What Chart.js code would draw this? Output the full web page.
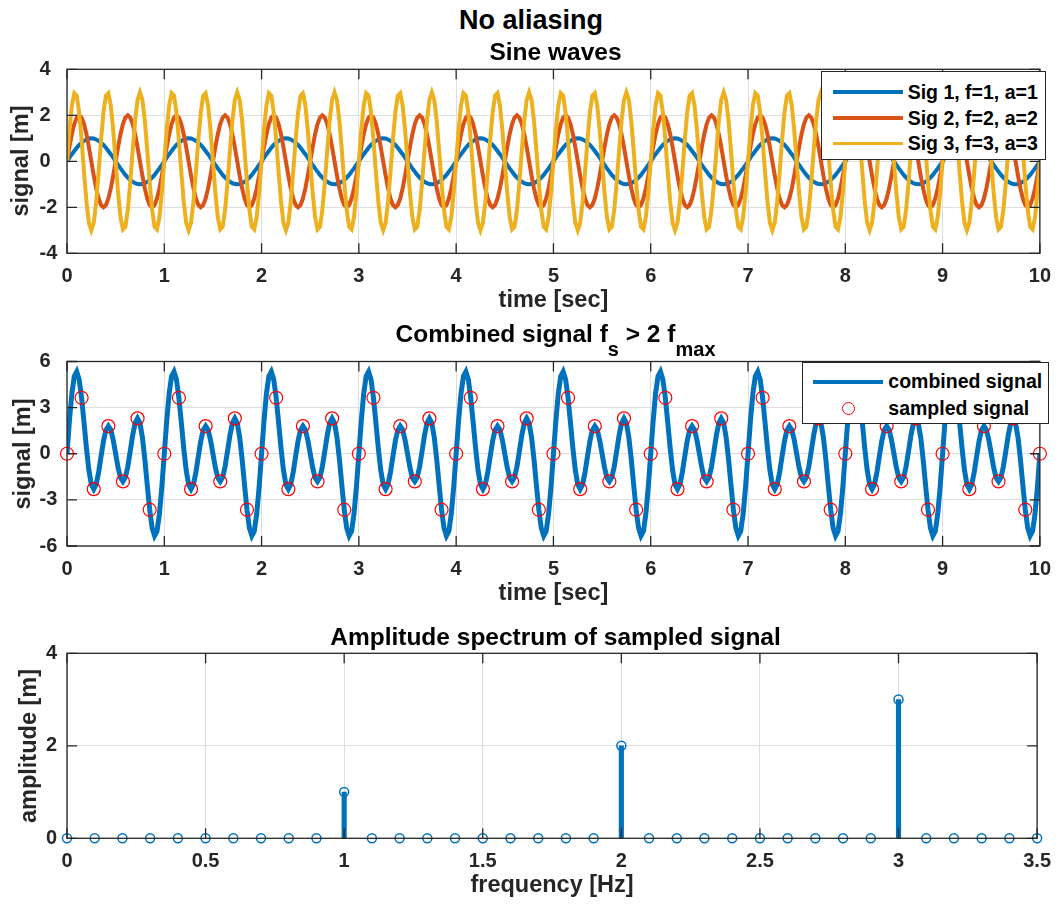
<!DOCTYPE html>
<html>
<head>
<meta charset="utf-8">
<script src="https://cdn.jsdelivr.net/npm/chart.js@4.4.0/dist/chart.umd.min.js"></script>
<style>
  body { margin: 0; background: #fff; }
  #fig { position: relative; width: 1062px; height: 906px; overflow: hidden;
         font-family: "Liberation Sans", Arial, sans-serif; font-weight: bold; color: #000; }
  canvas { position: absolute; left: 0; }
  .txt { position: absolute; white-space: nowrap; text-align: center; }
  .sub { position: relative; top: 14px; font-size: 20px; }
  .ylab { position: absolute; white-space: nowrap; font-size: 23.5px; line-height: 23.5px; color: #262626;
          transform: translate(-50%, -50%) rotate(-90deg); }
  .legend { position: absolute; background: #fff; border: 1px solid #262626; box-sizing: border-box;
            font-size: 19.5px; line-height: 19.5px; color: #000; }
  .legend .lt { position: absolute; white-space: nowrap; }
  .legend .sw { position: absolute; }
  .legend .mk { position: absolute; box-sizing: border-box; border-radius: 50%; border: 1.2px solid #ff0000; }
</style>
</head>
<body>
<div id="fig">
  <canvas id="c1"></canvas>
  <canvas id="c2"></canvas>
  <canvas id="c3"></canvas>

  <div class="txt" style="left:0;width:1062px;top:7px;font-size:27px;line-height:27px;">No aliasing</div>
  <div class="txt" style="left:67px;width:977px;top:40px;font-size:24.5px;line-height:24.5px;">Sine waves</div>
  <div class="txt" style="left:67px;width:977px;top:321.7px;font-size:24.5px;line-height:24.5px;">Combined signal f<span class="sub">s</span> &gt; 2 f<span class="sub">max</span></div>
  <div class="txt" style="left:67px;width:977px;top:625px;font-size:24.5px;line-height:24.5px;">Amplitude spectrum of sampled signal</div>

  <div class="ylab" style="left:21px;top:161.3px;">signal [m]</div>
  <div class="ylab" style="left:22.5px;top:453.7px;">signal [m]</div>
  <div class="ylab" style="left:29px;top:745.8px;">amplitude [m]</div>

  <div class="legend" style="left:821px;top:71px;width:225px;height:88.5px;">
    <div class="sw" style="left:10.7px;width:70px;top:18.2px;height:3.5px;background:#0072BD;"></div>
    <div class="lt" style="left:85.7px;top:10.5px;">Sig 1, f=1, a=1</div>
    <div class="sw" style="left:10.7px;width:70px;top:44.2px;height:3.5px;background:#D95319;"></div>
    <div class="lt" style="left:85.7px;top:36.5px;">Sig 2, f=2, a=2</div>
    <div class="sw" style="left:10.7px;width:70px;top:69.8px;height:3.5px;background:#EDB120;"></div>
    <div class="lt" style="left:85.7px;top:62px;">Sig 3, f=3, a=3</div>
  </div>

  <div class="legend" style="left:802px;top:362px;width:247px;height:61.5px;">
    <div class="sw" style="left:9.7px;width:70px;top:16.5px;height:4.5px;background:#0072BD;"></div>
    <div class="lt" style="left:85.3px;top:9.2px;">combined signal</div>
    <div class="mk" style="left:38.5px;top:39.2px;width:13px;height:13px;"></div>
    <div class="lt" style="left:85.3px;top:36.2px;">sampled signal</div>
  </div>
</div>

<script>
// time axis of the "continuous" signals [sec]
const time = [
  0,0.025,0.05,0.075,0.1,0.125,0.15,0.175,0.2,0.225,0.25,0.275,0.3,0.325,0.35,0.375,0.4,0.425,0.45,0.475,0.5,0.525,0.55,0.575,0.6,0.625,0.65,0.675,0.7,0.725,0.75,0.775,0.8,0.825,0.85,0.875,0.9,0.925,0.95,0.975,
  1,1.025,1.05,1.075,1.1,1.125,1.15,1.175,1.2,1.225,1.25,1.275,1.3,1.325,1.35,1.375,1.4,1.425,1.45,1.475,1.5,1.525,1.55,1.575,1.6,1.625,1.65,1.675,1.7,1.725,1.75,1.775,1.8,1.825,1.85,1.875,1.9,1.925,1.95,1.975,
  2,2.025,2.05,2.075,2.1,2.125,2.15,2.175,2.2,2.225,2.25,2.275,2.3,2.325,2.35,2.375,2.4,2.425,2.45,2.475,2.5,2.525,2.55,2.575,2.6,2.625,2.65,2.675,2.7,2.725,2.75,2.775,2.8,2.825,2.85,2.875,2.9,2.925,2.95,2.975,
  3,3.025,3.05,3.075,3.1,3.125,3.15,3.175,3.2,3.225,3.25,3.275,3.3,3.325,3.35,3.375,3.4,3.425,3.45,3.475,3.5,3.525,3.55,3.575,3.6,3.625,3.65,3.675,3.7,3.725,3.75,3.775,3.8,3.825,3.85,3.875,3.9,3.925,3.95,3.975,
  4,4.025,4.05,4.075,4.1,4.125,4.15,4.175,4.2,4.225,4.25,4.275,4.3,4.325,4.35,4.375,4.4,4.425,4.45,4.475,4.5,4.525,4.55,4.575,4.6,4.625,4.65,4.675,4.7,4.725,4.75,4.775,4.8,4.825,4.85,4.875,4.9,4.925,4.95,4.975,
  5,5.025,5.05,5.075,5.1,5.125,5.15,5.175,5.2,5.225,5.25,5.275,5.3,5.325,5.35,5.375,5.4,5.425,5.45,5.475,5.5,5.525,5.55,5.575,5.6,5.625,5.65,5.675,5.7,5.725,5.75,5.775,5.8,5.825,5.85,5.875,5.9,5.925,5.95,5.975,
  6,6.025,6.05,6.075,6.1,6.125,6.15,6.175,6.2,6.225,6.25,6.275,6.3,6.325,6.35,6.375,6.4,6.425,6.45,6.475,6.5,6.525,6.55,6.575,6.6,6.625,6.65,6.675,6.7,6.725,6.75,6.775,6.8,6.825,6.85,6.875,6.9,6.925,6.95,6.975,
  7,7.025,7.05,7.075,7.1,7.125,7.15,7.175,7.2,7.225,7.25,7.275,7.3,7.325,7.35,7.375,7.4,7.425,7.45,7.475,7.5,7.525,7.55,7.575,7.6,7.625,7.65,7.675,7.7,7.725,7.75,7.775,7.8,7.825,7.85,7.875,7.9,7.925,7.95,7.975,
  8,8.025,8.05,8.075,8.1,8.125,8.15,8.175,8.2,8.225,8.25,8.275,8.3,8.325,8.35,8.375,8.4,8.425,8.45,8.475,8.5,8.525,8.55,8.575,8.6,8.625,8.65,8.675,8.7,8.725,8.75,8.775,8.8,8.825,8.85,8.875,8.9,8.925,8.95,8.975,
  9,9.025,9.05,9.075,9.1,9.125,9.15,9.175,9.2,9.225,9.25,9.275,9.3,9.325,9.35,9.375,9.4,9.425,9.45,9.475,9.5,9.525,9.55,9.575,9.6,9.625,9.65,9.675,9.7,9.725,9.75,9.775,9.8,9.825,9.85,9.875,9.9,9.925,9.95,9.975,
  10
];

// Sig 1, f=1, a=1
const sig1 = [
  0,0.16,0.31,0.45,0.59,0.71,0.81,0.89,0.95,0.99,1,0.99,0.95,0.89,0.81,0.71,0.59,0.45,0.31,0.16,0,-0.16,-0.31,-0.45,-0.59,-0.71,-0.81,-0.89,-0.95,-0.99,-1,-0.99,-0.95,-0.89,-0.81,-0.71,-0.59,-0.45,-0.31,-0.16,
  0,0.16,0.31,0.45,0.59,0.71,0.81,0.89,0.95,0.99,1,0.99,0.95,0.89,0.81,0.71,0.59,0.45,0.31,0.16,0,-0.16,-0.31,-0.45,-0.59,-0.71,-0.81,-0.89,-0.95,-0.99,-1,-0.99,-0.95,-0.89,-0.81,-0.71,-0.59,-0.45,-0.31,-0.16,
  0,0.16,0.31,0.45,0.59,0.71,0.81,0.89,0.95,0.99,1,0.99,0.95,0.89,0.81,0.71,0.59,0.45,0.31,0.16,0,-0.16,-0.31,-0.45,-0.59,-0.71,-0.81,-0.89,-0.95,-0.99,-1,-0.99,-0.95,-0.89,-0.81,-0.71,-0.59,-0.45,-0.31,-0.16,
  0,0.16,0.31,0.45,0.59,0.71,0.81,0.89,0.95,0.99,1,0.99,0.95,0.89,0.81,0.71,0.59,0.45,0.31,0.16,0,-0.16,-0.31,-0.45,-0.59,-0.71,-0.81,-0.89,-0.95,-0.99,-1,-0.99,-0.95,-0.89,-0.81,-0.71,-0.59,-0.45,-0.31,-0.16,
  0,0.16,0.31,0.45,0.59,0.71,0.81,0.89,0.95,0.99,1,0.99,0.95,0.89,0.81,0.71,0.59,0.45,0.31,0.16,0,-0.16,-0.31,-0.45,-0.59,-0.71,-0.81,-0.89,-0.95,-0.99,-1,-0.99,-0.95,-0.89,-0.81,-0.71,-0.59,-0.45,-0.31,-0.16,
  0,0.16,0.31,0.45,0.59,0.71,0.81,0.89,0.95,0.99,1,0.99,0.95,0.89,0.81,0.71,0.59,0.45,0.31,0.16,0,-0.16,-0.31,-0.45,-0.59,-0.71,-0.81,-0.89,-0.95,-0.99,-1,-0.99,-0.95,-0.89,-0.81,-0.71,-0.59,-0.45,-0.31,-0.16,
  0,0.16,0.31,0.45,0.59,0.71,0.81,0.89,0.95,0.99,1,0.99,0.95,0.89,0.81,0.71,0.59,0.45,0.31,0.16,0,-0.16,-0.31,-0.45,-0.59,-0.71,-0.81,-0.89,-0.95,-0.99,-1,-0.99,-0.95,-0.89,-0.81,-0.71,-0.59,-0.45,-0.31,-0.16,
  0,0.16,0.31,0.45,0.59,0.71,0.81,0.89,0.95,0.99,1,0.99,0.95,0.89,0.81,0.71,0.59,0.45,0.31,0.16,0,-0.16,-0.31,-0.45,-0.59,-0.71,-0.81,-0.89,-0.95,-0.99,-1,-0.99,-0.95,-0.89,-0.81,-0.71,-0.59,-0.45,-0.31,-0.16,
  0,0.16,0.31,0.45,0.59,0.71,0.81,0.89,0.95,0.99,1,0.99,0.95,0.89,0.81,0.71,0.59,0.45,0.31,0.16,0,-0.16,-0.31,-0.45,-0.59,-0.71,-0.81,-0.89,-0.95,-0.99,-1,-0.99,-0.95,-0.89,-0.81,-0.71,-0.59,-0.45,-0.31,-0.16,
  0,0.16,0.31,0.45,0.59,0.71,0.81,0.89,0.95,0.99,1,0.99,0.95,0.89,0.81,0.71,0.59,0.45,0.31,0.16,0,-0.16,-0.31,-0.45,-0.59,-0.71,-0.81,-0.89,-0.95,-0.99,-1,-0.99,-0.95,-0.89,-0.81,-0.71,-0.59,-0.45,-0.31,-0.16,
  0
];

// Sig 2, f=2, a=2
const sig2 = [
  0,0.62,1.18,1.62,1.9,2,1.9,1.62,1.18,0.62,0,-0.62,-1.18,-1.62,-1.9,-2,-1.9,-1.62,-1.18,-0.62,0,0.62,1.18,1.62,1.9,2,1.9,1.62,1.18,0.62,0,-0.62,-1.18,-1.62,-1.9,-2,-1.9,-1.62,-1.18,-0.62,
  0,0.62,1.18,1.62,1.9,2,1.9,1.62,1.18,0.62,0,-0.62,-1.18,-1.62,-1.9,-2,-1.9,-1.62,-1.18,-0.62,0,0.62,1.18,1.62,1.9,2,1.9,1.62,1.18,0.62,0,-0.62,-1.18,-1.62,-1.9,-2,-1.9,-1.62,-1.18,-0.62,
  0,0.62,1.18,1.62,1.9,2,1.9,1.62,1.18,0.62,0,-0.62,-1.18,-1.62,-1.9,-2,-1.9,-1.62,-1.18,-0.62,0,0.62,1.18,1.62,1.9,2,1.9,1.62,1.18,0.62,0,-0.62,-1.18,-1.62,-1.9,-2,-1.9,-1.62,-1.18,-0.62,
  0,0.62,1.18,1.62,1.9,2,1.9,1.62,1.18,0.62,0,-0.62,-1.18,-1.62,-1.9,-2,-1.9,-1.62,-1.18,-0.62,0,0.62,1.18,1.62,1.9,2,1.9,1.62,1.18,0.62,0,-0.62,-1.18,-1.62,-1.9,-2,-1.9,-1.62,-1.18,-0.62,
  0,0.62,1.18,1.62,1.9,2,1.9,1.62,1.18,0.62,0,-0.62,-1.18,-1.62,-1.9,-2,-1.9,-1.62,-1.18,-0.62,0,0.62,1.18,1.62,1.9,2,1.9,1.62,1.18,0.62,0,-0.62,-1.18,-1.62,-1.9,-2,-1.9,-1.62,-1.18,-0.62,
  0,0.62,1.18,1.62,1.9,2,1.9,1.62,1.18,0.62,0,-0.62,-1.18,-1.62,-1.9,-2,-1.9,-1.62,-1.18,-0.62,0,0.62,1.18,1.62,1.9,2,1.9,1.62,1.18,0.62,0,-0.62,-1.18,-1.62,-1.9,-2,-1.9,-1.62,-1.18,-0.62,
  0,0.62,1.18,1.62,1.9,2,1.9,1.62,1.18,0.62,0,-0.62,-1.18,-1.62,-1.9,-2,-1.9,-1.62,-1.18,-0.62,0,0.62,1.18,1.62,1.9,2,1.9,1.62,1.18,0.62,0,-0.62,-1.18,-1.62,-1.9,-2,-1.9,-1.62,-1.18,-0.62,
  0,0.62,1.18,1.62,1.9,2,1.9,1.62,1.18,0.62,0,-0.62,-1.18,-1.62,-1.9,-2,-1.9,-1.62,-1.18,-0.62,0,0.62,1.18,1.62,1.9,2,1.9,1.62,1.18,0.62,0,-0.62,-1.18,-1.62,-1.9,-2,-1.9,-1.62,-1.18,-0.62,
  0,0.62,1.18,1.62,1.9,2,1.9,1.62,1.18,0.62,0,-0.62,-1.18,-1.62,-1.9,-2,-1.9,-1.62,-1.18,-0.62,0,0.62,1.18,1.62,1.9,2,1.9,1.62,1.18,0.62,0,-0.62,-1.18,-1.62,-1.9,-2,-1.9,-1.62,-1.18,-0.62,
  0,0.62,1.18,1.62,1.9,2,1.9,1.62,1.18,0.62,0,-0.62,-1.18,-1.62,-1.9,-2,-1.9,-1.62,-1.18,-0.62,0,0.62,1.18,1.62,1.9,2,1.9,1.62,1.18,0.62,0,-0.62,-1.18,-1.62,-1.9,-2,-1.9,-1.62,-1.18,-0.62,
  0
];

// Sig 3, f=3, a=3
const sig3 = [
  0,1.36,2.43,2.96,2.85,2.12,0.93,-0.47,-1.76,-2.67,-3,-2.67,-1.76,-0.47,0.93,2.12,2.85,2.96,2.43,1.36,0,-1.36,-2.43,-2.96,-2.85,-2.12,-0.93,0.47,1.76,2.67,3,2.67,1.76,0.47,-0.93,-2.12,-2.85,-2.96,-2.43,-1.36,
  0,1.36,2.43,2.96,2.85,2.12,0.93,-0.47,-1.76,-2.67,-3,-2.67,-1.76,-0.47,0.93,2.12,2.85,2.96,2.43,1.36,0,-1.36,-2.43,-2.96,-2.85,-2.12,-0.93,0.47,1.76,2.67,3,2.67,1.76,0.47,-0.93,-2.12,-2.85,-2.96,-2.43,-1.36,
  0,1.36,2.43,2.96,2.85,2.12,0.93,-0.47,-1.76,-2.67,-3,-2.67,-1.76,-0.47,0.93,2.12,2.85,2.96,2.43,1.36,0,-1.36,-2.43,-2.96,-2.85,-2.12,-0.93,0.47,1.76,2.67,3,2.67,1.76,0.47,-0.93,-2.12,-2.85,-2.96,-2.43,-1.36,
  0,1.36,2.43,2.96,2.85,2.12,0.93,-0.47,-1.76,-2.67,-3,-2.67,-1.76,-0.47,0.93,2.12,2.85,2.96,2.43,1.36,0,-1.36,-2.43,-2.96,-2.85,-2.12,-0.93,0.47,1.76,2.67,3,2.67,1.76,0.47,-0.93,-2.12,-2.85,-2.96,-2.43,-1.36,
  0,1.36,2.43,2.96,2.85,2.12,0.93,-0.47,-1.76,-2.67,-3,-2.67,-1.76,-0.47,0.93,2.12,2.85,2.96,2.43,1.36,0,-1.36,-2.43,-2.96,-2.85,-2.12,-0.93,0.47,1.76,2.67,3,2.67,1.76,0.47,-0.93,-2.12,-2.85,-2.96,-2.43,-1.36,
  0,1.36,2.43,2.96,2.85,2.12,0.93,-0.47,-1.76,-2.67,-3,-2.67,-1.76,-0.47,0.93,2.12,2.85,2.96,2.43,1.36,0,-1.36,-2.43,-2.96,-2.85,-2.12,-0.93,0.47,1.76,2.67,3,2.67,1.76,0.47,-0.93,-2.12,-2.85,-2.96,-2.43,-1.36,
  0,1.36,2.43,2.96,2.85,2.12,0.93,-0.47,-1.76,-2.67,-3,-2.67,-1.76,-0.47,0.93,2.12,2.85,2.96,2.43,1.36,0,-1.36,-2.43,-2.96,-2.85,-2.12,-0.93,0.47,1.76,2.67,3,2.67,1.76,0.47,-0.93,-2.12,-2.85,-2.96,-2.43,-1.36,
  0,1.36,2.43,2.96,2.85,2.12,0.93,-0.47,-1.76,-2.67,-3,-2.67,-1.76,-0.47,0.93,2.12,2.85,2.96,2.43,1.36,0,-1.36,-2.43,-2.96,-2.85,-2.12,-0.93,0.47,1.76,2.67,3,2.67,1.76,0.47,-0.93,-2.12,-2.85,-2.96,-2.43,-1.36,
  0,1.36,2.43,2.96,2.85,2.12,0.93,-0.47,-1.76,-2.67,-3,-2.67,-1.76,-0.47,0.93,2.12,2.85,2.96,2.43,1.36,0,-1.36,-2.43,-2.96,-2.85,-2.12,-0.93,0.47,1.76,2.67,3,2.67,1.76,0.47,-0.93,-2.12,-2.85,-2.96,-2.43,-1.36,
  0,1.36,2.43,2.96,2.85,2.12,0.93,-0.47,-1.76,-2.67,-3,-2.67,-1.76,-0.47,0.93,2.12,2.85,2.96,2.43,1.36,0,-1.36,-2.43,-2.96,-2.85,-2.12,-0.93,0.47,1.76,2.67,3,2.67,1.76,0.47,-0.93,-2.12,-2.85,-2.96,-2.43,-1.36,
  0
];

// combined signal (sum of the three)
const combined = [
  0,2.14,3.91,5.04,5.34,4.83,3.64,2.04,0.36,-1.07,-2,-2.3,-1.99,-1.2,-0.17,0.83,1.54,1.8,1.56,0.9,0,-0.9,-1.56,-1.8,-1.54,-0.83,0.17,1.2,1.99,2.3,2,1.07,-0.36,-2.04,-3.64,-4.83,-5.34,-5.04,-3.91,-2.14,
  0,2.14,3.91,5.04,5.34,4.83,3.64,2.04,0.36,-1.07,-2,-2.3,-1.99,-1.2,-0.17,0.83,1.54,1.8,1.56,0.9,0,-0.9,-1.56,-1.8,-1.54,-0.83,0.17,1.2,1.99,2.3,2,1.07,-0.36,-2.04,-3.64,-4.83,-5.34,-5.04,-3.91,-2.14,
  0,2.14,3.91,5.04,5.34,4.83,3.64,2.04,0.36,-1.07,-2,-2.3,-1.99,-1.2,-0.17,0.83,1.54,1.8,1.56,0.9,0,-0.9,-1.56,-1.8,-1.54,-0.83,0.17,1.2,1.99,2.3,2,1.07,-0.36,-2.04,-3.64,-4.83,-5.34,-5.04,-3.91,-2.14,
  0,2.14,3.91,5.04,5.34,4.83,3.64,2.04,0.36,-1.07,-2,-2.3,-1.99,-1.2,-0.17,0.83,1.54,1.8,1.56,0.9,0,-0.9,-1.56,-1.8,-1.54,-0.83,0.17,1.2,1.99,2.3,2,1.07,-0.36,-2.04,-3.64,-4.83,-5.34,-5.04,-3.91,-2.14,
  0,2.14,3.91,5.04,5.34,4.83,3.64,2.04,0.36,-1.07,-2,-2.3,-1.99,-1.2,-0.17,0.83,1.54,1.8,1.56,0.9,0,-0.9,-1.56,-1.8,-1.54,-0.83,0.17,1.2,1.99,2.3,2,1.07,-0.36,-2.04,-3.64,-4.83,-5.34,-5.04,-3.91,-2.14,
  0,2.14,3.91,5.04,5.34,4.83,3.64,2.04,0.36,-1.07,-2,-2.3,-1.99,-1.2,-0.17,0.83,1.54,1.8,1.56,0.9,0,-0.9,-1.56,-1.8,-1.54,-0.83,0.17,1.2,1.99,2.3,2,1.07,-0.36,-2.04,-3.64,-4.83,-5.34,-5.04,-3.91,-2.14,
  0,2.14,3.91,5.04,5.34,4.83,3.64,2.04,0.36,-1.07,-2,-2.3,-1.99,-1.2,-0.17,0.83,1.54,1.8,1.56,0.9,0,-0.9,-1.56,-1.8,-1.54,-0.83,0.17,1.2,1.99,2.3,2,1.07,-0.36,-2.04,-3.64,-4.83,-5.34,-5.04,-3.91,-2.14,
  0,2.14,3.91,5.04,5.34,4.83,3.64,2.04,0.36,-1.07,-2,-2.3,-1.99,-1.2,-0.17,0.83,1.54,1.8,1.56,0.9,0,-0.9,-1.56,-1.8,-1.54,-0.83,0.17,1.2,1.99,2.3,2,1.07,-0.36,-2.04,-3.64,-4.83,-5.34,-5.04,-3.91,-2.14,
  0,2.14,3.91,5.04,5.34,4.83,3.64,2.04,0.36,-1.07,-2,-2.3,-1.99,-1.2,-0.17,0.83,1.54,1.8,1.56,0.9,0,-0.9,-1.56,-1.8,-1.54,-0.83,0.17,1.2,1.99,2.3,2,1.07,-0.36,-2.04,-3.64,-4.83,-5.34,-5.04,-3.91,-2.14,
  0,2.14,3.91,5.04,5.34,4.83,3.64,2.04,0.36,-1.07,-2,-2.3,-1.99,-1.2,-0.17,0.83,1.54,1.8,1.56,0.9,0,-0.9,-1.56,-1.8,-1.54,-0.83,0.17,1.2,1.99,2.3,2,1.07,-0.36,-2.04,-3.64,-4.83,-5.34,-5.04,-3.91,-2.14,
  0
];

// sampled signal (red circles)
const sampleTime = [
  0,0.15,0.275,0.425,0.575,0.725,0.85,
  1,1.15,1.275,1.425,1.575,1.725,1.85,
  2,2.15,2.275,2.425,2.575,2.725,2.85,
  3,3.15,3.275,3.425,3.575,3.725,3.85,
  4,4.15,4.275,4.425,4.575,4.725,4.85,
  5,5.15,5.275,5.425,5.575,5.725,5.85,
  6,6.15,6.275,6.425,6.575,6.725,6.85,
  7,7.15,7.275,7.425,7.575,7.725,7.85,
  8,8.15,8.275,8.425,8.575,8.725,8.85,
  9,9.15,9.275,9.425,9.575,9.725,9.85,
  10
];
const sampled = [
  0,3.64,-2.3,1.8,-1.8,2.3,-3.64,
  0,3.64,-2.3,1.8,-1.8,2.3,-3.64,
  0,3.64,-2.3,1.8,-1.8,2.3,-3.64,
  0,3.64,-2.3,1.8,-1.8,2.3,-3.64,
  0,3.64,-2.3,1.8,-1.8,2.3,-3.64,
  0,3.64,-2.3,1.8,-1.8,2.3,-3.64,
  0,3.64,-2.3,1.8,-1.8,2.3,-3.64,
  0,3.64,-2.3,1.8,-1.8,2.3,-3.64,
  0,3.64,-2.3,1.8,-1.8,2.3,-3.64,
  0,3.64,-2.3,1.8,-1.8,2.3,-3.64,
  0
];

// amplitude spectrum
const freq = [0,0.1,0.2,0.3,0.4,0.5,0.6,0.7,0.8,0.9,1,1.1,1.2,1.3,1.4,1.5,1.6,1.7,1.8,1.9,2,2.1,2.2,2.3,2.4,2.5,2.6,2.7,2.8,2.9,3,3.1,3.2,3.3,3.4,3.5];
const amp  = [0,0,0,0,0,0,0,0,0,0,1,0,0,0,0,0,0,0,0,0,2,0,0,0,0,0,0,0,0,0,3,0,0,0,0,0];

// tick labels
const timeTicks = [0,1,2,3,4,5,6,7,8,9,10];
const sineTicks = [-4,-2,0,2,4];
const combTicks = [-6,-3,0,3,6];
const freqTicks = [0,0.5,1,1.5,2,2.5,3,3.5];
const ampTicks  = [0,2,4];

const BLUE = '#0072BD', ORANGE = '#D95319', YELLOW = '#EDB120', RED = '#FF0000';
const AXIS = '#262626', GRID = '#dedede';
const tickFont = { family: 'Liberation Sans', size: 20, weight: 'bold' };
const labFont = { family: 'Liberation Sans', size: 23.5, weight: 'bold' };

const pts = (xs, ys) => xs.map((v, i) => ({ x: v, y: ys[i] }));

// MATLAB-like box with inward ticks on all four sides
const frame = {
  id: 'frame',
  afterDraw(chart) {
    const { ctx, chartArea: a, scales: { x, y } } = chart;
    ctx.save();
    ctx.strokeStyle = AXIS;
    ctx.lineWidth = 1.3;
    ctx.beginPath();
    x.ticks.forEach(t => {
      const p = x.getPixelForValue(t.value);
      ctx.moveTo(p, a.bottom); ctx.lineTo(p, a.bottom - 10);
      ctx.moveTo(p, a.top); ctx.lineTo(p, a.top + 10);
    });
    y.ticks.forEach(t => {
      const p = y.getPixelForValue(t.value);
      ctx.moveTo(a.left, p); ctx.lineTo(a.left + 10, p);
      ctx.moveTo(a.right, p); ctx.lineTo(a.right - 10, p);
    });
    ctx.stroke();
    ctx.strokeRect(a.left, a.top, a.right - a.left, a.bottom - a.top);
    ctx.restore();
  }
};

function subplot(id, box, xr, yr, xTitle, datasets) {
  const cv = document.getElementById(id);
  const h = Math.round(box.bottom - box.canvasTop + 62);
  const xH = h - (box.bottom - box.canvasTop);
  cv.width = 1062;
  cv.height = h;
  cv.style.top = box.canvasTop + 'px';
  return new Chart(cv, {
    type: 'line',
    data: { datasets: datasets },
    options: {
      responsive: false,
      animation: false,
      devicePixelRatio: 1,
      layout: { padding: { left: box.labelLeft, right: 18, top: box.top - box.canvasTop, bottom: 0 } },
      plugins: { legend: { display: false }, tooltip: { enabled: false }, title: { display: false } },
      scales: {
        x: {
          type: 'linear', min: xr.min, max: xr.max, offset: false,
          afterBuildTicks: s => { s.ticks = xr.ticks.map(v => ({ value: v })); },
          ticks: { font: tickFont, color: AXIS, padding: 11, maxRotation: 0, autoSkip: false,
                   callback: v => String(v) },
          grid: { color: GRID, lineWidth: 1, drawTicks: false, offset: false },
          border: { display: false },
          title: { display: true, text: xTitle, font: labFont, color: AXIS, padding: 0 },
          afterFit: s => { s.height = xH; }
        },
        y: {
          type: 'linear', min: yr.min, max: yr.max,
          afterBuildTicks: s => { s.ticks = yr.ticks.map(v => ({ value: v })); },
          ticks: { font: tickFont, color: AXIS, crossAlign: 'far', padding: 0,
                   callback: v => String(v) },
          grid: { color: GRID, lineWidth: 1, drawTicks: false },
          border: { display: false },
          afterFit: s => { s.width = 67 - box.labelLeft; }
        }
      }
    },
    plugins: [frame]
  });
}

subplot('c1',
  { canvasTop: 45, top: 69.3, bottom: 253.3, labelLeft: 39.5 },
  { min: 0, max: 10, ticks: timeTicks },
  { min: -4, max: 4, ticks: sineTicks },
  'time [sec]',
  [
    { label: 'Sig 1, f=1, a=1', data: pts(time, sig1), borderColor: BLUE, borderWidth: 4, pointRadius: 0, order: 3 },
    { label: 'Sig 2, f=2, a=2', data: pts(time, sig2), borderColor: ORANGE, borderWidth: 4, pointRadius: 0, order: 2 },
    { label: 'Sig 3, f=3, a=3', data: pts(time, sig3), borderColor: YELLOW, borderWidth: 4, pointRadius: 0, order: 1 }
  ]);

subplot('c2',
  { canvasTop: 340, top: 361.5, bottom: 546, labelLeft: 39.5 },
  { min: 0, max: 10, ticks: timeTicks },
  { min: -6, max: 6, ticks: combTicks },
  'time [sec]',
  [
    { label: 'combined signal', data: pts(time, combined), borderColor: BLUE, borderWidth: 5, pointRadius: 0, order: 2 },
    { label: 'sampled signal', type: 'scatter', data: pts(sampleTime, sampled), showLine: false,
      pointRadius: 6.5, pointBorderColor: RED, pointBackgroundColor: 'rgba(0,0,0,0)', pointBorderWidth: 1.2,
      clip: false, order: 1 }
  ]);

subplot('c3',
  { canvasTop: 630, top: 653.3, bottom: 838.3, labelLeft: 46 },
  { min: 0, max: 3.5, ticks: freqTicks },
  { min: 0, max: 4, ticks: ampTicks },
  'frequency [Hz]',
  [
    { type: 'scatter', data: pts(freq, amp), showLine: false,
      pointRadius: 4.5, pointBorderColor: BLUE, pointBackgroundColor: 'rgba(0,0,0,0)', pointBorderWidth: 1.5,
      clip: false, order: 1 },
    { type: 'bar', data: pts(freq, amp), backgroundColor: BLUE, barThickness: 4.5, order: 2 }
  ]);
</script>
</body>
</html>
